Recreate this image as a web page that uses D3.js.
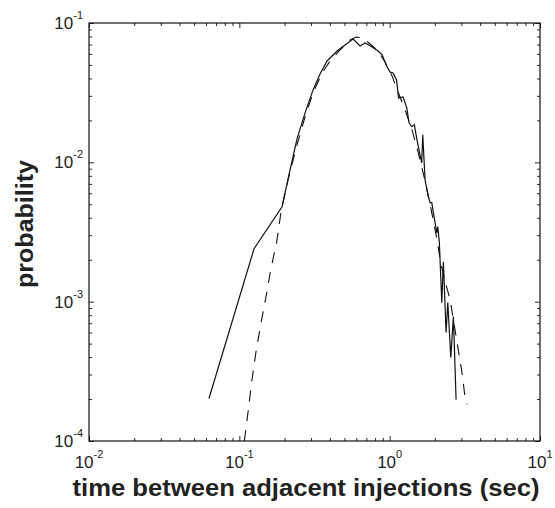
<!DOCTYPE html>
<html>
<head>
<meta charset="utf-8">
<script src="https://cdn.jsdelivr.net/npm/d3@7/dist/d3.min.js"></script>
<style>
  html, body { margin: 0; padding: 0; background: #fff; }
  svg { display: block; }
  text { font-family: "Liberation Sans", Arial, Helvetica, sans-serif; fill: #222; }
</style>
</head>
<body>
<svg id="chart" width="555" height="508"></svg>
<script>
// ---- data ----
const measuredX = [0.0628, 0.1253, 0.1924, 0.216, 0.242, 0.2736, 0.3093, 0.3441, 0.3833, 0.4467,
  0.505, 0.5709, 0.6354, 0.686, 0.7637, 0.837, 0.890, 0.961, 1.006, 1.053,
  1.111, 1.146, 1.228, 1.300, 1.346, 1.403, 1.460, 1.499, 1.552, 1.593,
  1.635, 1.660, 1.720, 1.809, 1.857, 1.906, 1.954, 2.058, 2.089, 2.141,
  2.222, 2.277, 2.373, 2.436, 2.551, 2.654, 2.766];
const measuredY = [2.02e-4, 2.40e-3, 4.80e-3, 8.55e-3, 0.01474, 0.02264, 0.0331, 0.0431, 0.0534, 0.0630,
  0.0696, 0.0768, 0.0684, 0.0719, 0.0673, 0.0630, 0.0590, 0.0484, 0.0445, 0.0438,
  0.0390, 0.0290, 0.0295, 0.0246, 0.0192, 0.0180, 0.0186, 0.01574, 0.01292, 0.01132,
  9.92e-3, 0.01574, 7.49e-3, 5.66e-3, 5.13e-3, 5.13e-3, 4.35e-3, 3.12e-3, 3.45e-3, 2.65e-3,
  9.84e-4, 1.93e-3, 6.0e-4, 9.84e-4, 3.97e-4, 7.81e-4, 1.98e-4];

const fitX = [0.108, 0.1148, 0.1209, 0.1291, 0.1395, 0.1505, 0.1618, 0.1773, 0.1894, 0.2109,
  0.242, 0.2736, 0.3093, 0.3550, 0.4014, 0.4677, 0.5452, 0.5976, 0.6653, 0.7405,
  0.837, 0.932, 1.037, 1.137, 1.266, 1.409, 1.545, 1.694, 1.857, 2.036,
  2.198, 2.399, 2.523, 2.808, 3.018, 3.175, 3.27];
const fitY = [1.0e-4, 1.68e-4, 2.67e-4, 4.38e-4, 7.07e-4, 1.086e-3, 1.696e-3, 2.69e-3, 4.42e-3, 7.49e-3,
  0.01334, 0.0212, 0.0315, 0.0438, 0.0534, 0.0641, 0.0755, 0.0794, 0.0781, 0.0707,
  0.0630, 0.0525, 0.0417, 0.0320, 0.0238, 0.0171, 0.01189, 7.87e-3, 5.04e-3, 3.02e-3,
  1.84e-3, 1.26e-3, 1.033e-3, 5.08e-4, 3.15e-4, 2.05e-4, 1.83e-4];

const xDecades = [0.01, 0.1, 1, 10];
const xTickExp = ["-2", "-1", "0", "1"];
const yDecades = [1e-4, 1e-3, 1e-2, 1e-1];
const yTickExp = ["-4", "-3", "-2", "-1"];

const xLabel = "time between adjacent injections (sec)";
const yLabel = "probability";

// ---- layout ----
const L = 89, R = 540, T = 23, B = 441;
const svg = d3.select("#chart");
const x = d3.scaleLog().domain([0.01, 10]).range([L, R]);
const y = d3.scaleLog().domain([1e-4, 1e-1]).range([B, T]);

function minors(dec) {
  const out = [];
  for (let i = 0; i < dec.length - 1; i++) for (let k = 2; k <= 9; k++) out.push(dec[i] * k);
  return out;
}
const xMinor = minors(xDecades), yMinor = minors(yDecades);

// clip
svg.append("defs").append("clipPath").attr("id", "clip")
  .append("rect").attr("x", L).attr("y", T).attr("width", R - L).attr("height", B - T);

// ticks via d3 axes (inward)
function axisGroup(axisFn, scale, vals, size, transform) {
  const g = svg.append("g").attr("transform", transform)
    .call(axisFn(scale).tickValues(vals).tickSize(size).tickFormat(""));
  g.select(".domain").remove();
  g.selectAll(".tick line").attr("stroke", "#111").attr("stroke-width", 0.9);
  return g;
}
axisGroup(d3.axisBottom, x, xDecades, -5, `translate(0,${B})`);
axisGroup(d3.axisBottom, x, xMinor, -3, `translate(0,${B})`);
axisGroup(d3.axisTop, x, xDecades, -5, `translate(0,${T})`);
axisGroup(d3.axisTop, x, xMinor, -3, `translate(0,${T})`);
axisGroup(d3.axisLeft, y, yDecades, -5, `translate(${L},0)`);
axisGroup(d3.axisLeft, y, yMinor, -3, `translate(${L},0)`);
axisGroup(d3.axisRight, y, yDecades, -5, `translate(${R},0)`);
axisGroup(d3.axisRight, y, yMinor, -3, `translate(${R},0)`);

// lines
const line = d3.line().x(d => x(d[0])).y(d => y(d[1]));
const plot = svg.append("g").attr("clip-path", "url(#clip)");
plot.append("path")
  .datum(fitX.map((v, i) => [v, fitY[i]]))
  .attr("d", line).attr("fill", "none").attr("stroke", "#111")
  .attr("stroke-width", 1.1).attr("stroke-dasharray", "11,9");
plot.append("path")
  .datum(measuredX.map((v, i) => [v, measuredY[i]]))
  .attr("d", line).attr("fill", "none").attr("stroke", "#111")
  .attr("stroke-width", 1.2).attr("stroke-linejoin", "miter");

// frame
svg.append("rect").attr("x", L).attr("y", T).attr("width", R - L).attr("height", B - T)
  .attr("fill", "none").attr("stroke", "#111").attr("stroke-width", 1.2);

// tick labels
xDecades.forEach((v, i) => {
  const t = svg.append("text").attr("x", x(v)).attr("y", 468)
    .attr("text-anchor", "middle").attr("font-size", 17);
  t.append("tspan").text("10");
  t.append("tspan").attr("font-size", 11).attr("dy", -10).text(xTickExp[i]);
});
yDecades.forEach((v, i) => {
  const t = svg.append("text").attr("x", 83).attr("y", y(v) + 6)
    .attr("text-anchor", "end").attr("font-size", 17);
  t.append("tspan").text("10");
  t.append("tspan").attr("font-size", 11).attr("dy", -10).text(yTickExp[i]);
});

// axis labels
svg.append("text").attr("x", 306).attr("y", 496).attr("text-anchor", "middle")
  .attr("font-size", 23).attr("font-weight", "bold")
  .attr("textLength", 467).attr("lengthAdjust", "spacingAndGlyphs").text(xLabel);
svg.append("text").attr("transform", "translate(33,224) rotate(-90)")
  .attr("text-anchor", "middle").attr("font-size", 23).attr("font-weight", "bold")
  .attr("textLength", 128).attr("lengthAdjust", "spacingAndGlyphs").text(yLabel);
</script>
</body>
</html>
